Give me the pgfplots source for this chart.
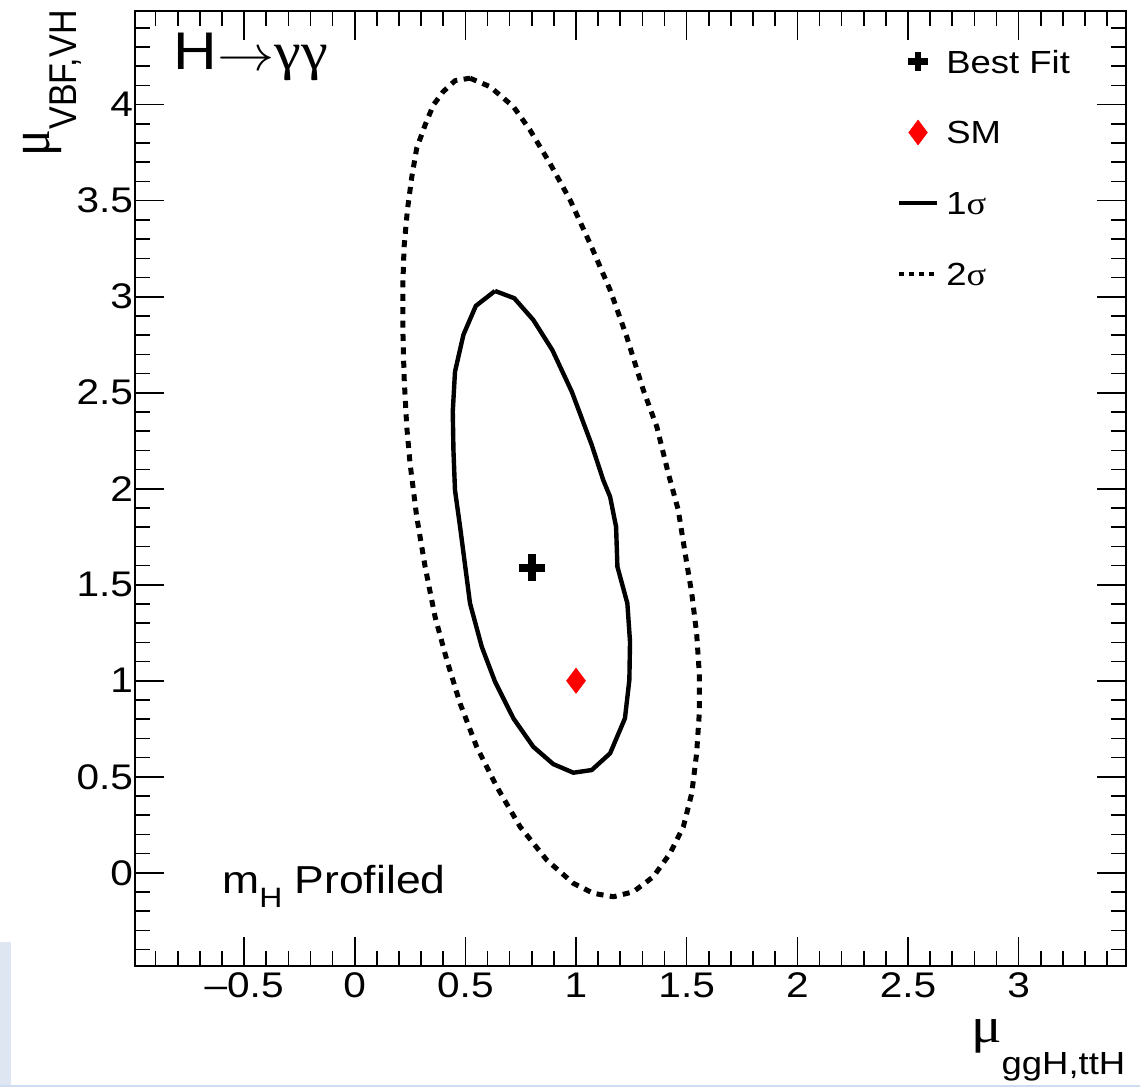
\documentclass[border=0pt]{standalone}
\usepackage{graphicx}
\usepackage{pgfplots}
\pgfplotsset{compat=1.18}
\usepackage{fontspec}
\setmainfont{Liberation Sans}[FakeStretch=1.14]
\newfontfamily\serifS{Liberation Serif}[FakeStretch=1.14]
\newfontfamily\sansN{Liberation Sans}
\newfontfamily\serifN{Liberation Serif}
\definecolor{lightblue}{RGB}{222,230,242}
\definecolor{lineblue}{RGB}{205,220,240}
\begin{document}
\begin{tikzpicture}
\useasboundingbox (0,0) rectangle (570pt,543.5pt);
\fill[lightblue] (0,1pt) rectangle (5.5pt,72.5pt);
\fill[lineblue] (0,0) rectangle (570pt,1.2pt);
\begin{axis}[
  at={(67.5pt,60.65pt)}, anchor=south west,
  scale only axis, width=495.35pt, height=477.35pt,
  xmin=-0.993, xmax=3.484, ymin=-0.484, ymax=4.488,
  axis line style={line width=1pt},
  tick style={line width=0.8pt, black},
  tick align=inside, tick pos=both,
  major tick length=14.5pt, minor tick length=7.5pt,
  xtick={-0.5,0,0.5,1,1.5,2,2.5,3},
  xticklabels={\textendash0.5,0,0.5,1,1.5,2,2.5,3},
  ytick={0,0.5,1,1.5,2,2.5,3,3.5,4},
  yticklabels={0,0.5,1,1.5,2,2.5,3,3.5,4},
  minor xtick={-0.9,-0.8,-0.7,-0.6,-0.4,-0.3,-0.2,-0.1,0.1,0.2,0.3,0.4,0.6,0.7,0.8,0.9,1.1,1.2,1.3,1.4,1.6,1.7,1.8,1.9,2.1,2.2,2.3,2.4,2.6,2.7,2.8,2.9,3.1,3.2,3.3,3.4},
  minor ytick={-0.4,-0.3,-0.2,-0.1,0.1,0.2,0.3,0.4,0.6,0.7,0.8,0.9,1.1,1.2,1.3,1.4,1.6,1.7,1.8,1.9,2.1,2.2,2.3,2.4,2.6,2.7,2.8,2.9,3.1,3.2,3.3,3.4,3.6,3.7,3.8,3.9,4.1,4.2,4.3,4.4},
  tick label style={font=\fontsize{17.8}{20}\selectfont},
  yticklabel style={xshift=2.5pt},
  /pgf/number format/assume math mode=true,
  xlabel={\fontsize{25}{25}\selectfont\serifS μ\raisebox{-16pt}{\rmfamily\fontsize{16}{16}\selectfont ggH,ttH}},
  xlabel style={at={(rel axis cs:1,0)}, anchor=base east, inner sep=0pt, yshift=-38.2pt},
  ylabel={\scalebox{1}[1.14]{\fontsize{25}{25}\selectfont\serifN μ\raisebox{-11.8pt}{\sansN\fontsize{17}{17}\selectfont VBF,VH}}},
  ylabel style={at={(rel axis cs:-0.0858,1.001)}, anchor=base east, inner sep=0pt, rotate=0},
  legend cell align=left,
  legend image code/.code={\draw[mark repeat=2,mark phase=2,#1] plot coordinates {(0pt,0pt)(9.5pt,0pt)(19pt,0pt)};},
  legend style={at={(rel axis cs:0.7686,0.9646)}, anchor=north west, draw=none, fill=none,
    font=\fontsize{16}{16}\selectfont, inner sep=0pt, row sep=18.85pt,
    nodes={inner sep=0pt, text height=14pt, text depth=2.54pt},
    /tikz/every odd column/.style={column sep=3.5pt}},
]
\addlegendimage{only marks, mark=+, mark size=4.8pt, line width=3.4pt, black}
\addlegendentry{Best Fit}
\addlegendimage{only marks, mark=diamond*, mark size=6.2pt, red, line width=0.3pt}
\addlegendentry{SM}
\addlegendimage{black, line width=2.2pt}
\addlegendentry{1{\serifS σ}}
\addlegendimage{black, line width=2.2pt, dash pattern=on 2.6pt off 2.4pt}
\addlegendentry{2{\serifS σ}}

% 2 sigma contour
\addplot[forget plot, black, line width=2.5pt, dash pattern=on 3.5pt off 3.2pt, line join=round] coordinates {
(0.521,4.138) (0.611,4.094) (0.717,3.990) (0.792,3.868) (0.882,3.695) (0.973,3.504)
(1.063,3.278) (1.154,3.035) (1.229,2.792) (1.304,2.514) (1.365,2.323) (1.417,2.080)
(1.462,1.889) (1.493,1.664) (1.523,1.455) (1.545,1.247) (1.557,1.039) (1.557,0.830)
(1.545,0.622) (1.523,0.414) (1.485,0.240) (1.425,0.101) (1.349,-0.021) (1.259,-0.099)
(1.169,-0.125) (1.078,-0.107) (0.988,-0.055) (0.868,0.066) (0.747,0.240) (0.642,0.448)
(0.551,0.656) (0.476,0.882) (0.416,1.108) (0.363,1.333) (0.318,1.594) (0.280,1.854)
(0.250,2.132) (0.235,2.323) (0.223,2.583) (0.217,2.844) (0.217,3.052) (0.223,3.260)
(0.238,3.452) (0.258,3.625) (0.280,3.773) (0.318,3.894) (0.355,3.998) (0.400,4.068)
(0.453,4.125) (0.521,4.138)
};
% 1 sigma contour
\addplot[forget plot, black, line width=2.2pt, line join=round] coordinates {
(0.634,3.030) (0.721,2.992) (0.807,2.879) (0.893,2.722) (0.981,2.505) (1.071,2.228)
(1.123,2.045) (1.154,1.958) (1.181,1.802) (1.187,1.594) (1.232,1.403) (1.244,1.203)
(1.241,1.004) (1.221,0.804) (1.154,0.622) (1.071,0.535) (0.988,0.521) (0.897,0.566)
(0.807,0.656) (0.717,0.804) (0.634,0.995) (0.574,1.177) (0.521,1.403) (0.476,1.802)
(0.453,1.993) (0.446,2.202) (0.443,2.401) (0.453,2.609) (0.491,2.801) (0.547,2.952)
(0.634,3.030)
};
% best fit
\addplot[forget plot, only marks, mark=+, mark size=6.6pt, line width=4pt, black] coordinates {(0.800,1.589)};
% SM
\addplot[forget plot, only marks, mark=diamond*, mark size=6.3pt, red, line width=0.3pt] coordinates {(1,1)};

\node[anchor=base west, inner sep=0pt] at (axis cs:-0.821,4.181)
  {\fontsize{26.5}{26.5}\selectfont H{\fontsize{23}{23}\selectfont\raisebox{-0.5pt}{\scalebox{1.15}[1]{$\rightarrow$}}}{\serifS γγ}};
\node[anchor=base west, inner sep=0pt] at (axis cs:-0.600,-0.106)
  {\fontsize{19.5}{19.5}\selectfont m\raisebox{-7pt}{\fontsize{14}{14}\selectfont H} Profiled};
\end{axis}
\end{tikzpicture}
\end{document}
